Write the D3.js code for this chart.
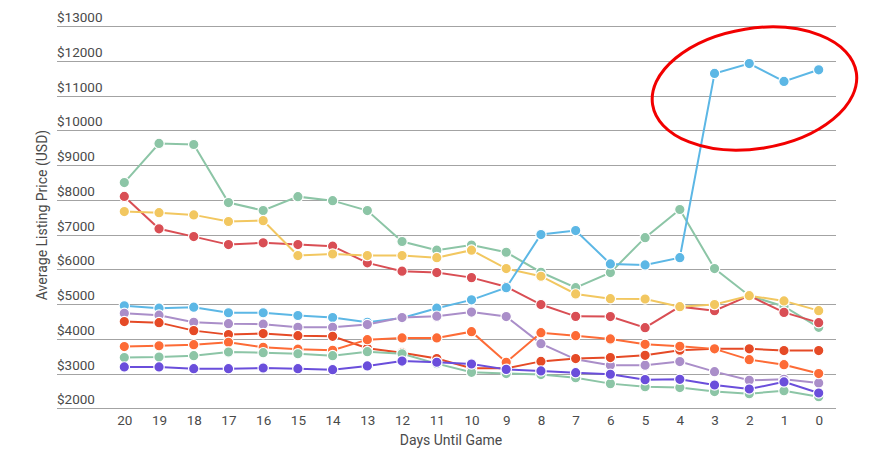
<!DOCTYPE html>
<html><head><meta charset="utf-8">
<script src="https://cdn.jsdelivr.net/npm/d3@7"></script>
<style>body{margin:0;background:#fff}svg{display:block;font-family:Roboto,"Noto Sans",sans-serif}</style>
</head><body><svg id="c" width="876" height="460"></svg>
<script>
const days = [20,19,18,17,16,15,14,13,12,11,10,9,8,7,6,5,4,3,2,1,0];
const yTicks = [2000,3000,4000,5000,6000,7000,8000,9000,10000,11000,12000,13000];
const greenTop   = [8495,9620,9590,7920,7690,8090,7975,7690,6800,6550,6695,6490,5915,5470,5905,6910,7720,6020,5240,4930,4330];
const redS       = [8095,7165,6940,6710,6760,6710,6665,6185,5945,5905,5760,5500,4985,4645,4640,4320,4925,4810,5240,4760,4465];
const yellowS    = [7660,7630,7565,7375,7400,6395,6440,6395,6395,6335,6550,6020,5800,5290,5155,5145,4925,4985,5240,5090,4810];
const blueS      = [4950,4880,4910,4750,4750,4670,4610,4475,4600,4880,5120,5470,7000,7115,6155,6125,6335,11635,11920,11405,11740];
const purpleS    = [4735,4680,4475,4435,4420,4330,4330,4410,4610,4650,4770,4640,3860,3410,3240,3240,3345,3055,2805,2835,2730];
const redOrangeS = [4495,4465,4235,4120,4150,4090,4070,3730,3600,3430,3150,3150,3350,3430,3460,3525,3670,3710,3710,3660,3660];
const orangeS    = [3775,3800,3830,3900,3755,3700,3670,3975,4025,4025,4205,3325,4175,4090,3995,3840,3785,3710,3400,3255,3000];
const greenBot   = [3460,3475,3515,3620,3600,3570,3515,3630,3570,3285,3035,3000,2970,2880,2710,2620,2595,2480,2420,2505,2335];
const violetS    = [3190,3190,3140,3140,3160,3140,3110,3220,3360,3325,3275,3120,3075,3025,2980,2825,2835,2670,2555,2760,2440];
const seriesNames = ["greenTop","red","yellow","blue","purple","redOrange","orange","greenBot","violet"];
const seriesValues = [greenTop,redS,yellowS,blueS,purpleS,redOrangeS,orangeS,greenBot,violetS];
const seriesColors = ["#8cc5a6","#d94e54","#f2c760","#5cb7e5","#aa8ec9","#e54a26","#fd6b36","#8cc5a6","#6a4edb"];
const highlight = {day: 1.85, value: 11200, rxDays: 2.97, ryValue: 1730, angle: -9};

const svg = d3.select("#c");
const x = d3.scaleLinear().domain([20,0]).range([124.3,818.7]);
const y = d3.scaleLinear().domain([2000,13000]).range([408.3,26]);
const gridX0 = 57, gridX1 = 836;

// gridlines & y labels
const gy = svg.append("g");
yTicks.forEach(t => {
  gy.append("line").attr("x1",gridX0).attr("x2",gridX1).attr("y1",Math.round(y(t))+0.5).attr("y2",Math.round(y(t))+0.5)
    .attr("stroke","#a3a3a3").attr("stroke-width",1.2);
  gy.append("text").attr("x",gridX0).attr("y",y(t)-4).attr("font-size",13.5).attr("fill","#4a4a4a").text("$"+t);
});
// x labels
const xAxis = d3.axisBottom(x).tickValues(days).tickSize(0).tickPadding(0).tickFormat(d=>d);
const xa = svg.append("g").attr("transform","translate(0,426)").call(xAxis);
xa.select(".domain").remove();
xa.selectAll("text").attr("font-size",13.5).attr("fill","#4a4a4a").attr("font-family","Roboto").attr("dy","-0.1em");

svg.append("text").attr("x",451).attr("y",445).attr("text-anchor","middle").attr("font-size",14).attr("fill","#4a4a4a").text("Days Until Game");
svg.append("text").attr("transform","translate(47,215) rotate(-90)").attr("text-anchor","middle").attr("font-size",14).attr("fill","#4a4a4a").text("Average Listing Price (USD)");

const line = d3.line().x((d,i)=>x(days[i])).y(d=>y(d));
seriesValues.forEach((vals,si) => {
  const g = svg.append("g").attr("class","s-"+seriesNames[si]);
  g.append("path").attr("d",line(vals)).attr("fill","none").attr("stroke",seriesColors[si]).attr("stroke-width",2);
  g.selectAll("circle").data(vals).join("circle")
    .attr("cx",(d,i)=>x(days[i])).attr("cy",d=>y(d)).attr("r",5.2)
    .attr("fill",seriesColors[si]).attr("stroke","#fff").attr("stroke-width",1.2);
});

// annotation ellipse
const cx = x(highlight.day), cy = y(highlight.value);
const rx = Math.abs(x(0)-x(highlight.rxDays)), ry = Math.abs(y(0)-y(highlight.ryValue));
svg.append("ellipse").attr("cx",cx).attr("cy",cy).attr("rx",rx).attr("ry",ry)
  .attr("transform",`rotate(${highlight.angle},${cx},${cy})`)
  .attr("fill","none").attr("stroke","#f20000").attr("stroke-width",3);
</script></body></html>
